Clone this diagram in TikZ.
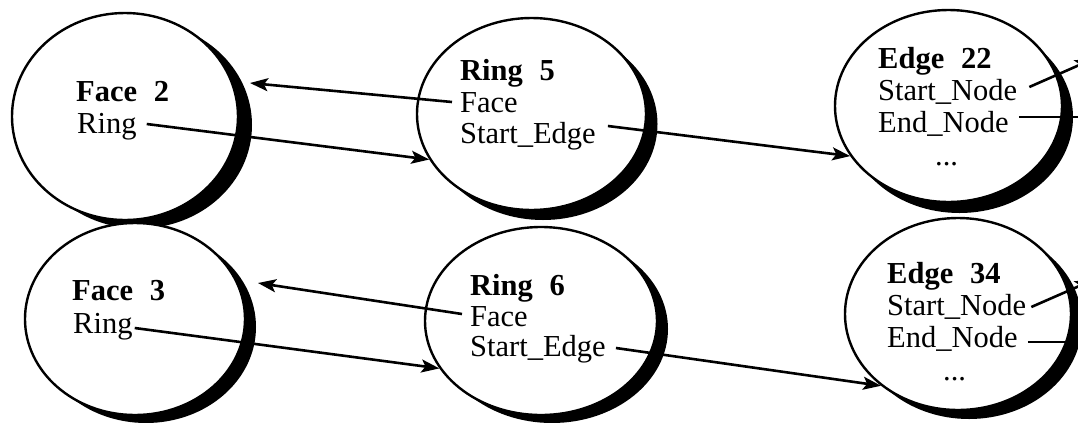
\documentclass[tikz,border=0pt]{standalone}
\usepackage{fontspec}
\setmainfont{Liberation Serif}
\usetikzlibrary{shapes.geometric,arrows.meta}
\begin{document}
\begin{tikzpicture}[x=1bp,y=-1bp,
  shadowell/.style={ellipse, fill=black, draw=none, inner sep=0pt},
  bubble/.style={ellipse, fill=white, draw=black, line width=2.4bp, inner sep=0pt},
  txt/.style={anchor=base west, inner sep=0pt, font=\fontsize{30.5bp}{32bp}\selectfont},
  ttl/.style={anchor=base west, inner sep=0pt, font=\fontsize{30.5bp}{32bp}\selectfont\bfseries},
  conn/.style={line width=2.6bp, -{Stealth[length=18bp,width=13bp,inset=4bp]}},
]
\useasboundingbox (0,0) rectangle (1078,422);
\clip (0,0) rectangle (1078,422);

% ellipses with crescent shadows
\node[shadowell, minimum width=226bp, minimum height=207bp] (f2s) at (139,125) {};
\node[bubble, minimum width=226bp, minimum height=207bp] (f2) at (125,116.5) {};
\node[shadowell, minimum width=220bp, minimum height=192bp] (f3s) at (146,327) {};
\node[bubble, minimum width=220bp, minimum height=192bp] (f3) at (135,319) {};
\node[shadowell, minimum width=229bp, minimum height=192bp] (r5s) at (543,124) {};
\node[bubble, minimum width=229bp, minimum height=192bp] (r5) at (531.5,114) {};
\node[shadowell, minimum width=232bp, minimum height=188bp] (r6s) at (552,329) {};
\node[bubble, minimum width=232bp, minimum height=188bp] (r6) at (541,321) {};
\node[shadowell, minimum width=227bp, minimum height=192bp] (e22s) at (959.5,117) {};
\node[bubble, minimum width=227bp, minimum height=192bp] (e22) at (948.5,106) {};
\node[shadowell, minimum width=226bp, minimum height=192bp] (e34s) at (969,323) {};
\node[bubble, minimum width=226bp, minimum height=192bp] (e34) at (958,314) {};

% texts
\node[ttl] (f2t) at (76,101) {Face\hspace{0.55em}2};
\node[txt] (f2r) at (77,133) {Ring};
\node[ttl] (f3t) at (72,300) {Face\hspace{0.55em}3};
\node[txt] (f3r) at (73,333) {Ring};

\node[ttl] (r5t) at (460,80) {Ring\hspace{0.55em}5};
\node[txt] (r5f) at (460,112) {Face};
\node[txt] (r5se) at (460,143) {Start\_Edge};
\node[ttl] (r6t) at (470,295) {Ring\hspace{0.55em}6};
\node[txt] (r6f) at (470,326) {Face};
\node[txt] (r6se) at (470,356) {Start\_Edge};

\node[ttl] (e22t) at (878,68) {Edge\hspace{0.55em}22};
\node[txt] (e22sn) at (878,100) {Start\_Node};
\node[txt] (e22en) at (878,132) {End\_Node};
\node[txt] (e22d) at (935,165) {...};
\node[ttl] (e34t) at (887,283) {Edge\hspace{0.55em}34};
\node[txt] (e34sn) at (887,315) {Start\_Node};
\node[txt] (e34en) at (887,347) {End\_Node};
\node[txt] (e34d) at (943,380) {...};

% free ends
\coordinate (f2tip) at (250,83);
\coordinate (f3tip) at (258,283);
\coordinate (out1) at (1093,59);
\coordinate (out2) at (1105,117);
\coordinate (out3) at (1093,280);
\coordinate (out4) at (1105,342);

% connectors
\draw[conn] ([shift={(-8,-10)}]r5f.base west) -- (f2tip);
\draw[conn] ([shift={(10,-9)}]f2r.base east) -- (r5.204);
\draw[conn] ([shift={(12,-17)}]r5se.base east) -- (e22.207);
\draw[conn] ([shift={(12,-13)}]e22sn.base east) -- (out1);
\draw[conn] ([shift={(10,-15)}]e22en.base east) -- (out2);
\draw[conn] ([shift={(-8,-12)}]r6f.base west) -- (f3tip);
\draw[conn] ([shift={(2,-5)}]f3r.base east) -- (r6.205);
\draw[conn] ([shift={(10,-8)}]r6se.base east) -- (e34.223);
\draw[conn] ([shift={(5,-8)}]e34sn.base east) -- (out3);
\draw[conn] ([shift={(10,-5)}]e34en.base east) -- (out4);
\end{tikzpicture}
\end{document}
